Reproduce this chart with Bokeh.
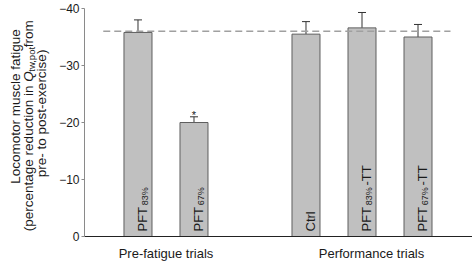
import math
from bokeh.plotting import figure
from bokeh.layouts import row
from bokeh.models import ColumnDataSource, Range1d, FixedTicker, Whisker, TeeHead
from bokeh.core.properties import value
from bokeh.embed import file_html
from bokeh.resources import INLINE

# ---------------- data ----------------
conditions = ["PFT83%", "PFT67%", "Ctrl", "PFT83%-TT", "PFT67%-TT"]
positions = [0, 1, 3, 4, 5]
fatigue = [-35.8, -20.0, -35.5, -36.6, -35.0]
sem = [2.2, 1.0, 2.2, 2.7, 2.2]
significance = ["", "*", "", "", ""]
label_main = ["PFT", "PFT", "Ctrl", "PFT", "PFT"]
label_sub = ["83%", "67%", "", "83%", "67%"]
label_tail = ["", "", "", "-TT", "-TT"]
groups = ["Pre-fatigue trials", "Performance trials"]
group_centers = [0.5, 4.17]
reference_level = -36.0
y_ticks = [0, -10, -20, -30, -40]
ylabel_line1 = "Locomotor muscle fatigue"
ylabel_line2 = ["(percentage reduction in ", "Q", "tw,pot", " from"]
ylabel_line3 = "pre- to post-exercise)"

FONT = "Liberation Sans"
TXT = "#1a1a1a"

# approximate advance widths (per 1000 em), scaled to the rendered font
ARIAL = {"P": 667, "F": 611, "T": 611, "C": 722, "t": 278, "r": 333, "l": 222,
         "%": 889, "-": 333, "(": 333, ")": 333, " ": 278, "p": 556, "e": 556,
         "c": 500, "n": 556, "a": 556, "g": 556, "d": 556, "u": 556, "i": 222,
         "o": 556, "f": 278, "m": 833, "w": 722, ",": 278, "Q": 778, "s": 500}
SCALE = 1.06


def tw(s, size):
    return SCALE * sum(ARIAL.get(c, 556) for c in s) / 1000.0 * size


TOTAL_W, H = 472, 263
LW = 50                      # width of the y-title strip
W = TOTAL_W - LW
X0, X1 = -0.955, 5.973
p = figure(width=W, height=H, output_backend="svg", toolbar_location=None,
           x_range=Range1d(X0, X1), y_range=Range1d(0, -40),
           min_border_left=34, min_border_right=0, min_border_top=8,
           min_border_bottom=25)
p.outline_line_color = None
p.grid.visible = False

# y axis
ya = p.yaxis[0]
ya.ticker = FixedTicker(ticks=y_ticks)
ya.major_label_overrides = {t: ("\u2212" + str(abs(t)) if t < 0 else str(t)) for t in y_ticks}
ya.minor_tick_line_color = None
ya.major_tick_in = 0
ya.major_tick_out = 3
ya.axis_line_color = "#8a8a8a"
ya.major_tick_line_color = "#8a8a8a"
ya.major_label_text_font = FONT
ya.major_label_text_font_size = "12px"
ya.major_label_text_color = TXT
ya.major_label_standoff = 2

# x axis: group labels
xa = p.xaxis[0]
xa.ticker = FixedTicker(ticks=group_centers)
xa.major_label_overrides = {c: g for c, g in zip(group_centers, groups)}
xa.major_tick_line_color = None
xa.major_tick_in = 0
xa.major_tick_out = 0
xa.minor_tick_line_color = None
xa.axis_line_color = "#222222"
xa.axis_line_width = 1
xa.major_label_text_font = FONT
xa.major_label_text_font_size = "13px"
xa.major_label_text_color = TXT
xa.major_label_standoff = 9

MAIN, SUB = 13, 9
start = 5
src = ColumnDataSource(dict(
    x=positions, top=fatigue,
    err=[f - s for f, s in zip(fatigue, sem)],
    sig=significance,
    main=label_main, sub=label_sub, tail=label_tail,
    main_off=[-start for _ in label_main],
    sub_off=[-(start + tw(m, MAIN) + 0.3) for m in label_main],
    tail_off=[-(start + tw(m, MAIN) + tw(s, SUB) + 0.8) for m, s in zip(label_main, label_sub)],
))

p.vbar(x="x", top="top", bottom=0, width=0.5, fill_color="#c0c0c0",
       line_color="#5e5e5e", line_width=1, source=src)

p.segment(x0=positions[0] - 0.62, x1=positions[-1] + 0.58,
          y0=reference_level, y1=reference_level,
          line_color="#a0a0a0", line_width=1.6, line_dash="7 4")

p.add_layout(Whisker(base="x", lower="top", upper="err", source=src,
                     dimension="height", line_color="#333333", line_width=1,
                     lower_head=None,
                     upper_head=TeeHead(size=8, line_color="#333333", line_width=1)))

p.text(x="x", y="err", text="sig", source=src, text_font=value(FONT),
       text_font_size="11px", text_align="center", text_baseline="alphabetic",
       y_offset=-2, text_color=TXT)

ang = math.pi / 2
p.text(x="x", y=0, text="main", source=src, angle=ang, x_offset=4.7, y_offset="main_off",
       text_font=value(FONT), text_font_size=f"{MAIN}px", text_align="left",
       text_baseline="alphabetic", text_color=TXT)
p.text(x="x", y=0, text="sub", source=src, angle=ang, x_offset=7.2, y_offset="sub_off",
       text_font=value(FONT), text_font_size=f"{SUB}px", text_align="left",
       text_baseline="alphabetic", text_color=TXT)
p.text(x="x", y=0, text="tail", source=src, angle=ang, x_offset=4.7, y_offset="tail_off",
       text_font=value(FONT), text_font_size=f"{MAIN}px", text_align="left",
       text_baseline="alphabetic", text_color=TXT)

# ---- y-axis title strip (pixel coordinates: x right, y down)
t = figure(width=LW, height=H, output_backend="svg", toolbar_location=None,
           x_range=Range1d(0, LW), y_range=Range1d(H, 0),
           x_axis_type=None, y_axis_type=None,
           min_border_left=0, min_border_right=0, min_border_top=0, min_border_bottom=0)
t.outline_line_color = None
t.grid.visible = False

YL, YS = 13.5, 9.5
lines_x = [15, 28, 41]
line1_cy, line3_cy = 113, 121
line2_top = 12

t.text(x=[lines_x[0], lines_x[2]], y=[line1_cy, line3_cy], text=[ylabel_line1, ylabel_line3],
       angle=ang, text_align="center", text_baseline="alphabetic", text_font=value(FONT),
       text_font_size=f"{YL}px", text_color=TXT)

# line 2: short trailing pieces stacked down from the top end; the long first piece
# is right-aligned against them so width estimates cannot make them overlap.
q, sub, tail = ylabel_line2[1], ylabel_line2[2], ylabel_line2[3]
y_tail = line2_top + tw(tail, YL)
y_sub = y_tail + tw(sub, YS) + 1.5
y_q = y_sub + tw(q, YL) + 0.5
t.text(x=[lines_x[1]], y=[y_q], text=[ylabel_line2[0]], angle=ang, text_align="right",
       text_baseline="alphabetic", text_font=value(FONT), text_font_size=f"{YL}px",
       text_color=TXT)
t.text(x=[lines_x[1]], y=[y_q], text=[q], angle=ang, text_align="left",
       text_baseline="alphabetic", text_font=value(FONT), text_font_size=f"{YL}px",
       text_font_style="italic", text_color=TXT)
t.text(x=[lines_x[1] + 2.5], y=[y_sub], text=[sub], angle=ang, text_align="left",
       text_baseline="alphabetic", text_font=value(FONT), text_font_size=f"{YS}px",
       text_color=TXT)
t.text(x=[lines_x[1]], y=[y_tail], text=[tail], angle=ang, text_align="left",
       text_baseline="alphabetic", text_font=value(FONT), text_font_size=f"{YL}px",
       text_color=TXT)

layout = row(t, p, spacing=0)
open("out.html", "w").write(file_html(layout, INLINE))
